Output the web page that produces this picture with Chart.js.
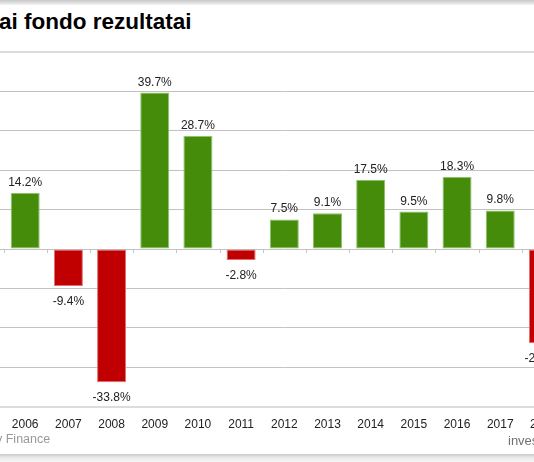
<!DOCTYPE html>
<html>
<head>
<meta charset="utf-8">
<script src="https://cdn.jsdelivr.net/npm/chart.js@4/dist/chart.umd.min.js"></script>
<style>
html,body{margin:0;padding:0;width:534px;height:462px;overflow:hidden;background:#fff;font-family:"Liberation Sans",Arial,sans-serif;}
#wrap{position:absolute;left:0;top:0;width:565px;height:462px;}
#topband{position:absolute;left:0;top:0;width:534px;height:5px;background:linear-gradient(#c8c8c8,#e6e6e6 70%,#f4f4f4);}
#title{position:absolute;left:-1px;top:9px;font-weight:bold;font-size:22.5px;color:#000;white-space:nowrap;}
.sep{position:absolute;left:0;width:534px;height:2px;background:#dcdcdc;}
#src{position:absolute;left:-4px;top:432px;font-size:12.5px;color:#999;white-space:nowrap;}
#brand{position:absolute;left:508px;top:433px;font-size:13px;color:#707070;white-space:nowrap;}
#botband{position:absolute;left:0;top:454px;width:534px;height:8px;background:linear-gradient(#c8c8c8,#e8e8e8 40%,#f6f6f6);}
canvas{position:absolute;left:0;top:0;}
</style>
</head>
<body>
<div id="topband"></div>
<div id="title">ai fondo rezultatai</div>
<div id="wrap"><canvas id="c" width="565" height="462"></canvas></div>
<div class="sep" style="top:51px"></div>
<div class="sep" style="top:405.5px"></div>
<div id="src">y Finance</div>
<div id="brand">investing.com</div>
<div id="botband"></div>
<script>
const years = ["2006","2007","2008","2009","2010","2011","2012","2013","2014","2015","2016","2017","2018"];
const returns = [14.2, -9.4, -33.8, 39.7, 28.7, -2.8, 7.5, 9.1, 17.5, 9.5, 18.3, 9.8, -23.9];
const yMin = -40, yMax = 50, yStep = 10;

const GREEN = "#468c0b", GREEN_EDGE = "#8fc26a";
const RED = "#c00000", RED_EDGE = "#e07070";

const labelPlugin = {
  id: "valueLabels",
  afterDatasetsDraw(chart) {
    const ctx = chart.ctx;
    const meta = chart.getDatasetMeta(0);
    const ys = chart.scales.y, xs = chart.scales.x;
    const y0 = ys.getPixelForValue(0);
    ctx.save();
    ctx.strokeStyle = "#c4c4c4";
    ctx.lineWidth = 1;
    const n = years.length;
    const w = (xs.right - xs.left) / n;
    for (let i = 0; i <= n; i++) {
      const x = Math.round(xs.left + i * w) + 0.5;
      ctx.beginPath();
      ctx.moveTo(x, y0);
      ctx.lineTo(x, y0 + 4);
      ctx.stroke();
    }
    ctx.font = "12px 'Liberation Sans', Arial, sans-serif";
    ctx.fillStyle = "#222";
    ctx.textAlign = "center";
    ctx.textBaseline = "alphabetic";
    meta.data.forEach((bar, i) => {
      const v = returns[i];
      const txt = v.toFixed(1) + "%";
      if (v >= 0) ctx.fillText(txt, bar.x, bar.y - 7);
      else ctx.fillText(txt, bar.x, bar.y + 18.5);
    });
    ctx.restore();
  }
};

new Chart(document.getElementById("c"), {
  type: "bar",
  data: {
    labels: years,
    datasets: [{
      data: returns,
      backgroundColor: returns.map(v => v >= 0 ? GREEN : RED),
      borderColor: returns.map(v => v >= 0 ? GREEN_EDGE : RED_EDGE),
      borderWidth: 1,
      borderSkipped: false,
      barPercentage: 0.672,
      categoryPercentage: 1.0
    }]
  },
  options: {
    responsive: false,
    animation: false,
    devicePixelRatio: 1,
    layout: { padding: { top: 52, left: 0, right: 0, bottom: 0 } },
    plugins: { legend: { display: false }, tooltip: { enabled: false }, title: { display: false } },
    scales: {
      x: {
        offset: true,
        grid: { display: false },
        border: { display: false },
        ticks: { color: "#222", font: { size: 12, family: "'Liberation Sans', Arial, sans-serif" }, padding: 3, maxRotation: 0, autoSkip: false },
        afterFit(s) { s.height = 55.4; }
      },
      y: {
        min: yMin, max: yMax,
        border: { display: false },
        grid: {
          color: ctx => (ctx.tick && (ctx.tick.value === yMax || ctx.tick.value === yMin)) ? "rgba(0,0,0,0)" : "#c2c2c2",
          lineWidth: 1,
          drawTicks: true,
          tickLength: 3.6
        },
        ticks: { display: false, stepSize: yStep },
        afterFit(s) { s.width = 3.6; }
      }
    }
  },
  plugins: [labelPlugin]
});
</script>
</body>
</html>
